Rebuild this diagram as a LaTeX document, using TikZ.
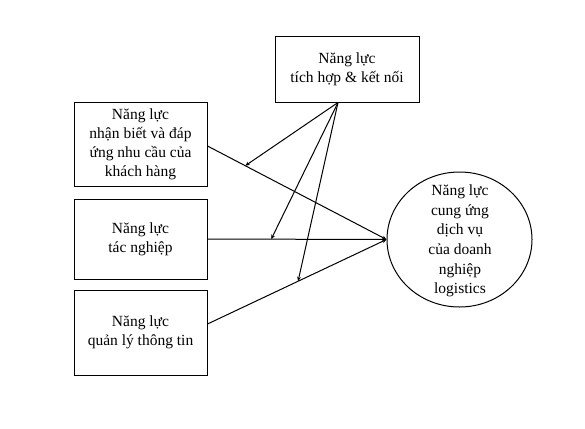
\documentclass[tikz,border=0pt]{standalone}
\usepackage{fontspec}
\setmainfont{Liberation Serif}
\usetikzlibrary{arrows.meta,shapes.geometric}
\begin{document}
\begin{tikzpicture}[x=1bp,y=1bp,
  every node/.style={font=\fontsize{15.5bp}{19bp}\selectfont, align=center, inner sep=0pt},
  box/.style={draw, line width=1bp},
  conn/.style={line width=1bp, -{Stealth[length=4.5bp,width=3.8bp]}}]
\useasboundingbox (0,0) rectangle (585,428);
\node[box, minimum width=144bp, minimum height=65bp] (top) at (347,358.5) {Năng lực\\tích hợp \& kết nối};
\node[box, minimum width=133bp, minimum height=84bp] (b1) at (140.5,284) {Năng lực\\nhận biết và đáp\\ứng nhu cầu của\\khách hàng};
\node[box, minimum width=133bp, minimum height=80bp] (b2) at (140.5,189) {Năng lực\\tác nghiệp};
\node[box, minimum width=133bp, minimum height=85bp] (b3) at (140.5,95.5) {Năng lực\\quản lý thông tin};
\node[draw, ellipse, line width=1bp, minimum width=145bp, minimum height=135bp] (c) at (459.5,188.5) {};
\node[font=\fontsize{15.5bp}{19.6bp}\selectfont] (ct) at (460,187) {Năng lực\\cung ứng\\dịch vụ\\của doanh\\nghiệp\\logistics};
\coordinate (s1) at ([yshift=-2bp]b1.east);
\coordinate (s3) at ([yshift=8.5bp]b3.east);
\coordinate (tp) at ([xshift=-9bp]top.south);
\draw[conn] (s1) -- (c.west) coordinate[pos=0.211] (m1);
\draw[conn] (b2.east) -- (c.west) coordinate[pos=0.356] (m2);
\draw[conn] (s3) -- (c.west) coordinate[pos=0.506] (m3);
\draw[conn] (tp) -- (m1);
\draw[conn] (tp) -- (m2);
\draw[conn] (tp) -- (m3);
\end{tikzpicture}
\end{document}
